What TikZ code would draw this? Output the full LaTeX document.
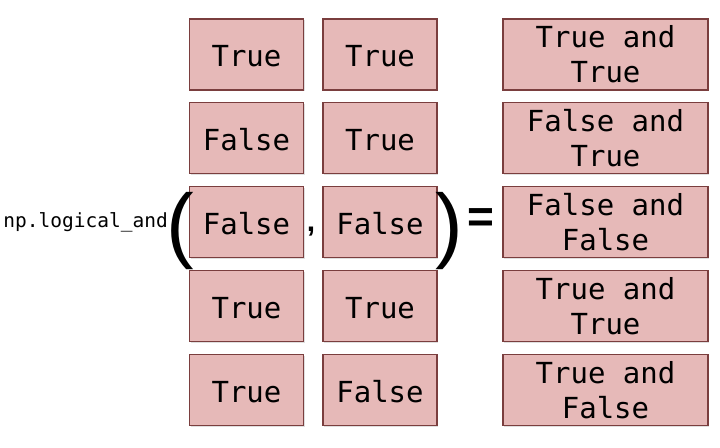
\documentclass[tikz,border=0pt]{standalone}
\usepackage{fontspec}
\usetikzlibrary{shadows}
\newfontfamily\codefont{DejaVu Sans Mono}
\newfontfamily\parenfont{Liberation Sans}
\definecolor{boxpink}{RGB}{230,185,184}
\definecolor{boxedge}{RGB}{122,62,62}
\begin{document}
\begin{tikzpicture}[x=1pt,y=-1pt]
        \useasboundingbox (0,0) rectangle (720,447);
        \begin{scope}[every node/.style={rectangle,draw=boxedge,fill=boxpink,line width=1.4pt,
                inner sep=0pt,minimum width=114pt,minimum height=71pt,
                text height=24pt,text depth=0pt,
                drop shadow={shadow xshift=1pt,shadow yshift=-1.2pt,opacity=0.25},
                font=\codefont\fontsize{29}{35}\selectfont}]
            \node (a1) at (246.5,54.5) {True};
            \node (a2) at (246.5,138) {False};
            \node (a3) at (246.5,222) {False};
            \node (a4) at (246.5,306) {True};
            \node (a5) at (246.5,390) {True};
            \node (b1) at (380,54.5) {True};
            \node (b2) at (380,138) {True};
            \node (b3) at (380,222) {False};
            \node (b4) at (380,306) {True};
            \node (b5) at (380,390) {False};
        \end{scope}
        \begin{scope}[every node/.style={rectangle,draw=boxedge,fill=boxpink,line width=1.4pt,
                inner sep=0pt,minimum width=205pt,minimum height=71pt,align=center,
                drop shadow={shadow xshift=1pt,shadow yshift=-1.2pt,opacity=0.25},
                font=\codefont\fontsize{29}{35}\selectfont}]
            \node (r1) at (605.5,54.5) {True and\\True};
            \node (r2) at (605.5,138) {False and\\True};
            \node (r3) at (605.5,222) {False and\\False};
            \node (r4) at (605.5,306) {True and\\True};
            \node (r5) at (605.5,390) {True and\\False};
        \end{scope}
        \node (func) [anchor=base east,inner sep=0pt,font=\codefont\fontsize{19.5}{24}\selectfont] at (168,227) {np.logical\_and};
        \begin{scope}[every node/.style={inner sep=0pt,font=\parenfont\fontsize{83}{83}\selectfont}]
            \node (lpar) at (180,231) {(};
            \node (rpar) at (449.5,231) {)};
        \end{scope}
        \node (comma) [inner sep=0pt,font=\parenfont\bfseries\fontsize{30}{35}\selectfont] at (311,232) {,};
        \node (eq) [inner sep=0pt,font=\parenfont\bfseries\fontsize{46}{46}\selectfont] at (480.5,221) {=};
    \end{tikzpicture}
\end{document}
